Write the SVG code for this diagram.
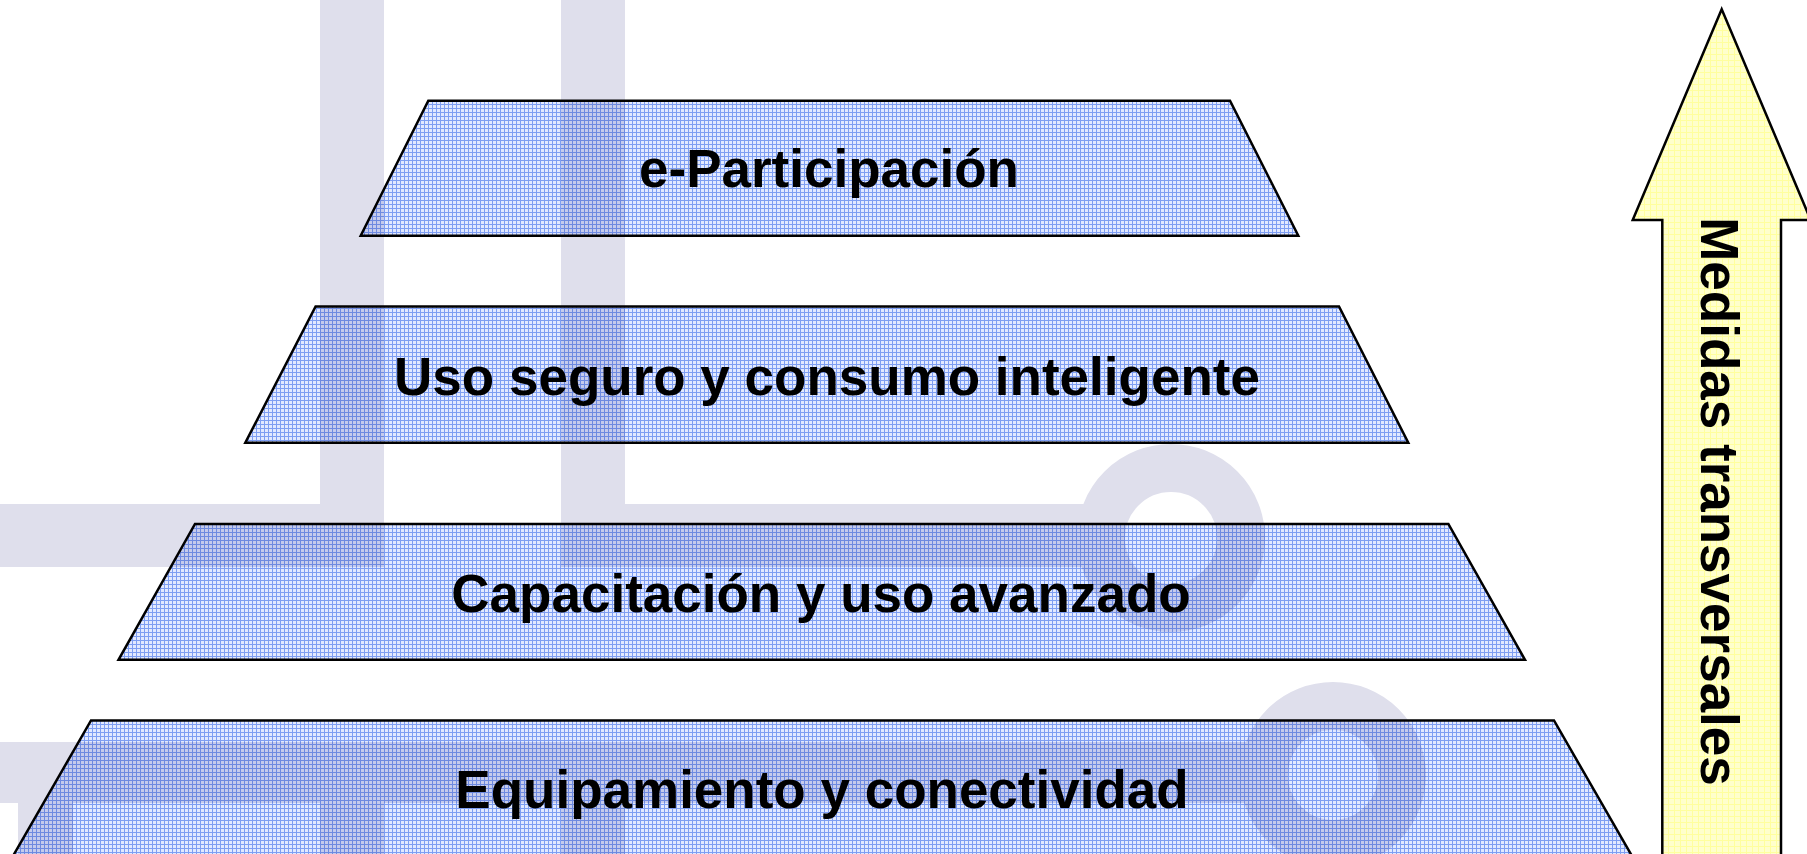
<svg xmlns="http://www.w3.org/2000/svg" width="1807" height="854" viewBox="0 0 1807 854">
<defs>
<pattern id="blueGrid" width="4" height="4" patternUnits="userSpaceOnUse">
<rect width="4" height="4" fill="#e2e9ff"/>
<rect width="4" height="1" fill="#7e9ef2"/>
<rect width="1" height="4" fill="#7e9ef2"/>
</pattern>
<pattern id="yellowGrid" width="6" height="6" patternUnits="userSpaceOnUse">
<rect width="6" height="6" fill="#ffffcc"/>
<rect width="6" height="1" fill="#ffff9e"/>
<rect width="1" height="6" fill="#ffff9e"/>
</pattern>
<style>
.wm{fill:#dfdfec;}
.ring{fill:none;stroke:#dfdfec;stroke-width:48;}
.tier{fill:url(#blueGrid);mix-blend-mode:multiply;}
.edge{fill:none;stroke:#000;stroke-width:2.5;stroke-linejoin:miter;}
.lbl{font-family:"Liberation Sans",Arial,sans-serif;font-weight:bold;font-size:53px;fill:#000;text-anchor:middle;}
</style>
</defs>
<rect width="1807" height="854" fill="#ffffff"/>
<g id="watermark">
<rect class="wm" x="320" y="0" width="64" height="567"/>
<rect class="wm" x="561" y="0" width="64" height="567"/>
<rect class="wm" x="0" y="504" width="384" height="63"/>
<rect class="wm" x="561" y="504" width="560" height="63"/>
<circle class="ring" cx="1171" cy="538" r="70"/>
<rect class="wm" x="0" y="742" width="1270" height="61"/>
<rect class="wm" x="18" y="742" width="55" height="112"/>
<rect class="wm" x="320" y="742" width="64" height="112"/>
<rect class="wm" x="561" y="742" width="64" height="112"/>
<circle class="ring" cx="1333" cy="775" r="69"/>
</g>
<g id="tier1">
<polygon class="tier" points="428.3,100.7 1230,100.7 1298.3,235.7 360.7,235.7"/>
<polygon class="edge" points="428.3,100.7 1230,100.7 1298.3,235.7 360.7,235.7"/>
<text class="lbl" x="829" y="187">e-Participación</text>
</g>
<g id="tier2">
<polygon class="tier" points="315.6,306.5 1339,306.5 1408.3,442.8 245.3,442.8"/>
<polygon class="edge" points="315.6,306.5 1339,306.5 1408.3,442.8 245.3,442.8"/>
<text class="lbl" x="827" y="395">Uso seguro y consumo inteligente</text>
</g>
<g id="tier3">
<polygon class="tier" points="195,524 1448.4,524 1525,659.8 118.5,659.8"/>
<polygon class="edge" points="195,524 1448.4,524 1525,659.8 118.5,659.8"/>
<text class="lbl" x="821" y="611.5">Capacitación y uso avanzado</text>
</g>
<g id="tier4">
<polygon class="tier" points="91,720.5 1554,720.5 1632,856 13,856"/>
<polygon class="edge" points="91,720.5 1554,720.5 1632,856 13,856"/>
<text class="lbl" x="822" y="808">Equipamiento y conectividad</text>
</g>
<g id="arrow">
<polygon points="1721.7,9.3 1810.7,220 1781,220 1781,870 1662.3,870 1662.3,220 1632.7,220" fill="url(#yellowGrid)" stroke="#000" stroke-width="2.5"/>
<text class="lbl" transform="translate(1701,501.5) rotate(90)" x="0" y="0">Medidas transversales</text>
</g>
<g id="connectors"></g>
</svg>
